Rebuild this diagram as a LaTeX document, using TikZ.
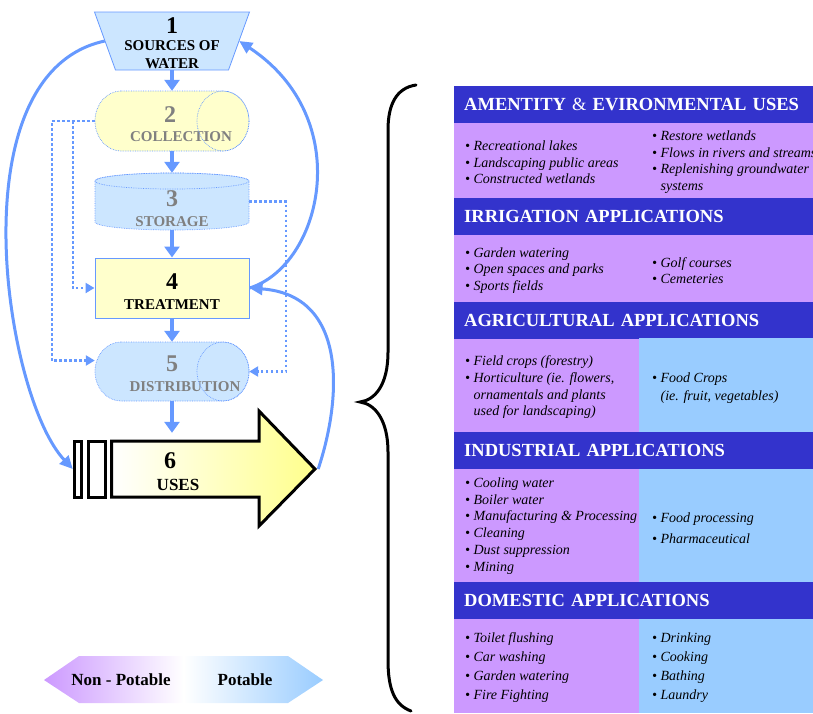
\documentclass[tikz,border=0pt]{standalone}
\usepackage{fontspec}
\setmainfont{Liberation Serif}
\usetikzlibrary{arrows.meta}
\definecolor{FlowBlue}{HTML}{6699FF}
\definecolor{PaleBlue}{HTML}{CCE6FF}
\definecolor{PaleYellow}{HTML}{FFFFCC}
\definecolor{UseYellow}{HTML}{FFFF8C}
\definecolor{HeadBlue}{HTML}{3333CC}
\definecolor{NonPot}{HTML}{CC99FF}
\definecolor{Pot}{HTML}{99CCFF}
\definecolor{LabelGray}{HTML}{808080}
\newcommand{\fsz}[2]{\fontsize{#1}{#2}\selectfont}

\begin{document}
\begin{tikzpicture}[x=1pt, y=-1pt,
    feed/.style={FlowBlue, line width=4pt, -{Triangle[width=15pt,length=11pt]}},
    bypass/.style={FlowBlue, line width=3pt, -{Triangle[width=12pt,length=13pt]}},
    reuse/.style={FlowBlue, line width=2.5pt, dash pattern=on 2.5pt off 2.5pt, -{Triangle[width=10pt,length=9pt]}},
    tank/.style={draw=FlowBlue, line width=0.7pt, densely dotted},
    holder/.style={inner sep=0pt, minimum width=154pt, minimum height=#1},
    num/.style={font=\fsz{24}{24}\bfseries, inner sep=0pt},
    tag/.style={font=\fsz{15}{18}\bfseries, inner sep=0pt, align=center},
    bandhead/.style={anchor=north west, fill=HeadBlue, text=white, font=\fsz{18.5}{20}\bfseries,
      minimum height=37pt, text width=339pt, inner xsep=10pt, inner ysep=0pt, align=left},
    items/.style={anchor=west, inner sep=0pt, align=left, font=\fsz{14}{#1}\itshape}]
    \clip (0,0) rectangle (813,713);

    % 1 sources of water
    \filldraw[draw=FlowBlue, fill=PaleBlue, line width=0.8pt] (94.5,12) -- (249.5,12) -- (228.5,70) -- (115.5,70) -- cycle;
    \node[holder=58pt, minimum width=134pt] (src) at (172,41) {};
    % 2 collection
    \filldraw[tank, fill=PaleYellow] (121,91) -- (223,91) arc[start angle=90, end angle=-90, x radius=26pt, y radius=30pt]
      -- (121,151) arc[start angle=-90, end angle=-270, x radius=26pt, y radius=30pt] -- cycle;
    \node[holder=60pt] (coll) at (172,121) {};
    \node[num, LabelGray] (coll-n) at (170,115) {2};
    \node[tag, LabelGray] (coll-t) at (181,137) {COLLECTION};
    \draw[tank] (223,121) ellipse [x radius=26pt, y radius=30pt];
    % 3 storage
    \filldraw[tank, fill=PaleBlue] (95,181) -- (95,222) arc[start angle=180, end angle=360, x radius=77pt, y radius=8pt]
      -- (249,181) arc[start angle=0, end angle=180, x radius=77pt, y radius=8pt] -- cycle;
    \draw[tank] (172,181) ellipse [x radius=77pt, y radius=8pt];
    \node[holder=57pt] (stor) at (172,201.5) {};
    % 4 treatment
    \node[holder=60pt, draw=FlowBlue, fill=PaleYellow, line width=1pt] (treat) at (172,288) {};
    % 5 distribution
    \filldraw[tank, fill=PaleBlue] (121,342) -- (223,342) arc[start angle=90, end angle=-90, x radius=26pt, y radius=29.5pt]
      -- (121,401) arc[start angle=-90, end angle=-270, x radius=26pt, y radius=29.5pt] -- cycle;
    \node[holder=59pt] (dist) at (172,371.5) {};
    \node[num, LabelGray] (dist-n) at (172,364) {5};
    \node[tag, LabelGray] (dist-t) at (185,387) {DISTRIBUTION};
    \draw[tank] (223,371.5) ellipse [x radius=26pt, y radius=29.5pt];
    % 6 uses
    \draw[line width=3pt, fill=white] (74.5,441) rectangle (81.5,497);
    \draw[line width=3pt, fill=white] (88.5,441) rectangle (105.5,497);
    \draw[line width=3pt, left color=white, right color=UseYellow]
      (111.5,441) -- (259,441) -- (259,411) -- (315,469) -- (259,526) -- (259,497) -- (111.5,497) -- cycle;
    \node[inner sep=0pt, minimum width=245pt, minimum height=56pt] (uses) at (195.5,469) {};

    \node[num] (src-n) at (172,26) {1};
    \node[tag] (src-t) at (172,55) {SOURCES OF\\WATER};
    \node[num, LabelGray] (stor-n) at (172,199) {3};
    \node[tag, LabelGray] (stor-t) at (172,222) {STORAGE};
    \node[num] (treat-n) at (172,282) {4};
    \node[tag] (treat-t) at (172,305) {TREATMENT};
    \node[num] (uses-n) at (170,461) {6};
    \node[tag, font=\fsz{17}{17}\bfseries] (uses-t) at (178,485) {USES};

    % main flow
    \draw[feed] (src) -- (coll);
    \draw[feed] (coll) -- (stor);
    \draw[feed] (stor) -- (treat);
    \draw[feed] (treat) -- (dist);
    \draw[feed, shorten >=8pt] (dist.south) -- (dist.south |- uses.north);
    % returns
    \draw[bypass] (src.west) .. controls +(-150,32) and +(-68,-72) .. (uses.west);
    \draw[bypass] (treat.east) .. controls +(72,-22) and +(118,78) .. (src.east);
    \draw[bypass] (uses.east) .. controls +(24,-72) and +(98,7) .. (treat.east);
    % dotted by-passes
    \draw[reuse] (coll.west) -- ++(-43,0) |- ([yshift=11pt]dist.west);
    \draw[reuse] ([xshift=-22pt]coll.west) |- (treat.west);
    \draw[reuse] (stor.east) -- ++(37,0) |- (dist.east);

    % potable scale
    \shade[left color=NonPot, right color=Pot, middle color=white]
      (44,680) -- (79,656) -- (288,656) -- (323,680) -- (288,703) -- (79,703) -- cycle;
    \node[tag, font=\fsz{17}{17}\bfseries] (nonpot) at (121,680) {Non - Potable};
    \node[tag, font=\fsz{17}{17}\bfseries] (potable) at (245,680) {Potable};

    % brace
    \draw[line width=3pt, line cap=round] (416,85) .. controls (396,88) and (388,105) .. (388,130) -- (388,352)
      .. controls (388,385) and (375,400) .. (360,402) .. controls (375,404) and (388,420) .. (388,452)
      -- (388,660) .. controls (388,690) and (395,705) .. (411,711);

    % application table
    \foreach \top/\bot in {123/198, 235/302, 338/432, 469/582, 619/713}
      \fill[NonPot] (454,\top) rectangle (813,\bot);
    \foreach \y/\id/\txt in {86/amen/{AMENTITY {\mdseries\&} EVIRONMENTAL USES}, 198/irr/IRRIGATION APPLICATIONS,
        302/agr/AGRICULTURAL APPLICATIONS, 432/ind/INDUSTRIAL APPLICATIONS, 582/dom/DOMESTIC APPLICATIONS}
      \node[bandhead] (\id-h) at (454,\y) {\txt};

    \node[items=16.5] (amen-l) at (465,162.5) {\textbullet\ Recreational lakes\\\textbullet\ Landscaping public areas\\\textbullet\ Constructed wetlands};
    \node[items=16.5] (irr-l) at (465,270.5) {\textbullet\ Garden watering\\\textbullet\ Open spaces and parks\\\textbullet\ Sports fields};
    \node[items=16.7] (agr-l) at (465,387.5) {\textbullet\ Field crops (forestry)\\\textbullet\ Horticulture (ie. flowers,\\
      \hphantom{\textbullet\ }ornamentals and plants\\\hphantom{\textbullet\ }used for landscaping)};
    \node[items=16.8] (ind-l) at (465,526) {\textbullet\ Cooling water\\\textbullet\ Boiler water\\\textbullet\ Manufacturing \& Processing\\
      \textbullet\ Cleaning\\\textbullet\ Dust suppression\\\textbullet\ Mining};
    \node[items=19] (dom-l) at (465,667.5) {\textbullet\ Toilet flushing\\\textbullet\ Car washing\\\textbullet\ Garden watering\\\textbullet\ Fire Fighting};

    \foreach \top/\bot in {338/432, 469/582, 619/713}
      \fill[Pot] (639,\top) rectangle (813,\bot);

    \node[items=16.7] (amen-r) at (652,162) {\textbullet\ Restore wetlands\\\textbullet\ Flows in rivers and streams\\
      \textbullet\ Replenishing groundwater\\\hphantom{\textbullet\ }systems};
    \node[items=16] (irr-r) at (652,271) {\textbullet\ Golf courses\\\textbullet\ Cemeteries};
    \node[items=18] (agr-r) at (652,388) {\textbullet\ Food Crops\\\hphantom{\textbullet\ }(ie. fruit, vegetables)};
    \node[items=21] (ind-r) at (652,528.5) {\textbullet\ Food processing\\\textbullet\ Pharmaceutical};
    \node[items=19] (dom-r) at (652,667.5) {\textbullet\ Drinking\\\textbullet\ Cooking\\\textbullet\ Bathing\\\textbullet\ Laundry};
\end{tikzpicture}
\end{document}
